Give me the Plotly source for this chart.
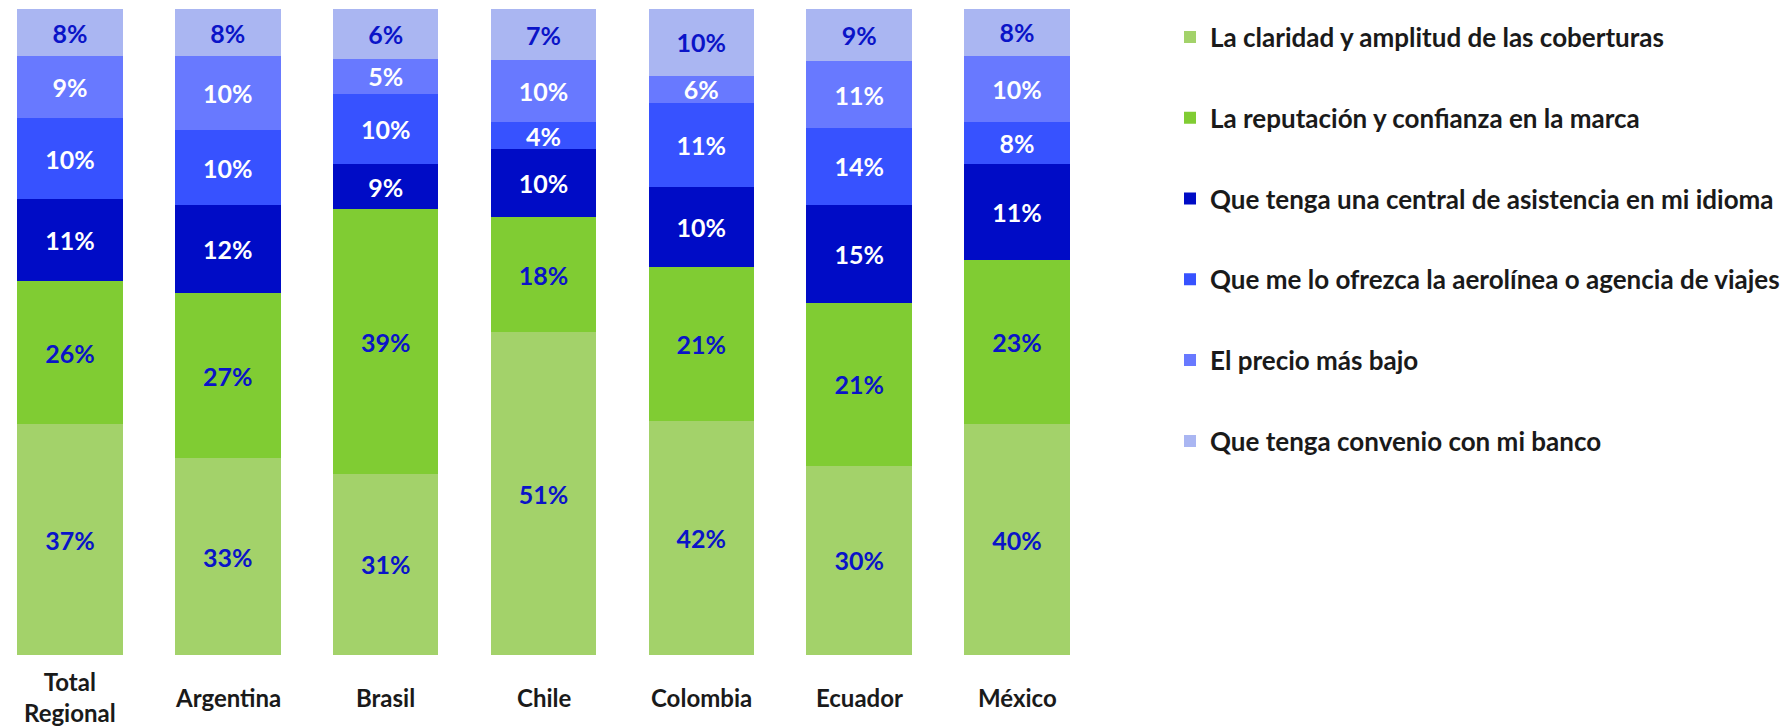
import plotly.graph_objects as go

## ==== ##
## DATA ##
## ==== ##
paises = ["Total<br>Regional", "Argentina", "Brasil", "Chile", "Colombia", "Ecuador", "México"]

series = [
    "La claridad y amplitud de las coberturas",
    "La reputación y confianza en la marca",
    "Que tenga una central de asistencia en mi idioma",
    "Que me lo ofrezca la aerolínea o agencia de viajes",
    "El precio más bajo",
    "Que tenga convenio con mi banco",
]

# Alto de cada segmento (% de la barra)
claridad   = [35.7, 30.5, 28.0, 50.0, 36.3, 29.3, 35.7]
reputacion = [22.1, 25.6, 40.9, 17.8, 23.7, 25.1, 25.4]
central    = [12.7, 13.6, 7.1, 10.5, 12.4, 15.2, 14.9]
aerolinea  = [12.5, 11.6, 10.8, 4.2, 13.0, 11.9, 6.5]
precio     = [9.6, 11.5, 5.4, 9.6, 4.3, 10.3, 10.3]
banco      = [7.3, 7.3, 7.7, 7.9, 10.3, 8.1, 7.2]

# Etiquetas impresas en cada segmento
claridad_txt   = [37, 33, 31, 51, 42, 30, 40]
reputacion_txt = [26, 27, 39, 18, 21, 21, 23]
central_txt    = [11, 12, 9, 10, 10, 15, 11]
aerolinea_txt  = [10, 10, 10, 4, 11, 14, 8]
precio_txt     = [9, 10, 5, 10, 6, 11, 10]
banco_txt      = [8, 8, 6, 7, 10, 9, 8]

valores   = [claridad, reputacion, central, aerolinea, precio, banco]
etiquetas = [claridad_txt, reputacion_txt, central_txt, aerolinea_txt, precio_txt, banco_txt]

colores = ["#A3D26A", "#80CC33", "#000CC6", "#3752FF", "#6879FF", "#AAB6F2"]
txt_col = ["#0A14C8", "#0A14C8", "#FFFFFF", "#FFFFFF", "#FFFFFF", "#0A14C8"]

## ====== ##
## FIGURA ##
## ====== ##
fig = go.Figure()

for i, nombre in enumerate(series):
    fig.add_trace(go.Bar(name=nombre,
                         x=paises, y=valores[i],
                         marker=dict(color=colores[i], line_width=0),
                         text=[f"{v}%" for v in etiquetas[i]],
                         texttemplate="%{text}",
                         textposition="inside",
                         insidetextanchor="middle",
                         textangle=0,
                         textfont=dict(family="Lato", size=25, color=txt_col[i], weight="bold"),
                         legendgroup=f"g{i}",
                         hoverinfo="skip",
                        )
                 )

## Etiquetas de categoría (centradas verticalmente, como en el original)
for p in paises:
    fig.add_annotation(x=p, y=0, xref="x", yref="paper",
                       text=p, showarrow=False,
                       yanchor="middle", yshift=-42,
                       font=dict(family="Lato", size=24, color="#1A1A1A", weight="bold"),
                      )

fig.update_xaxes(range=[-0.443, 6.443],
                 domain=[0, 0.6076],
                 showgrid=False,
                 showline=False,
                 ticks="",
                 showticklabels=False,
                )

fig.update_yaxes(visible=False, range=[0, 100])

fig.update_layout(barmode="stack",
                  barnorm="percent",
                  bargap=0.332,
                  width=1789, height=727,
                  margin=dict(l=0, r=0, t=9, b=72),
                  plot_bgcolor="white",
                  paper_bgcolor="white",
                  uniformtext=dict(minsize=25, mode="show"),
                  legend=dict(x=0.654, y=0.993, xanchor="left", yanchor="top",
                              traceorder="grouped",
                              tracegroupgap=44,
                              font=dict(family="Lato", size=26, color="#1A1A1A", weight="bold"),
                              itemwidth=30,
                             ),
                  showlegend=True,
                 )

fig.write_html("out.html",
               config={"displayModeBar": False},
               post_script="document.body.style.margin='0';")
